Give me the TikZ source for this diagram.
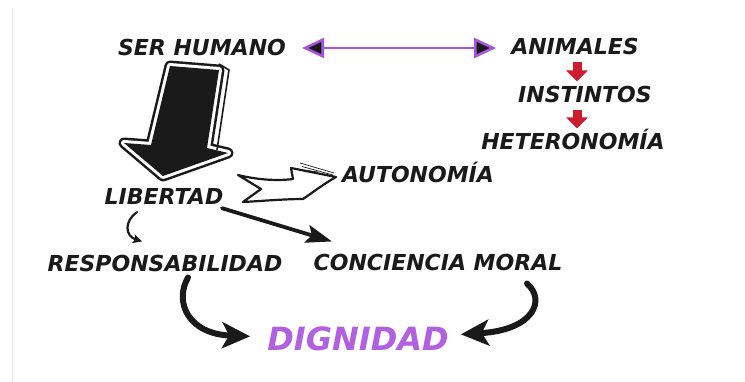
\documentclass[tikz,border=0pt]{standalone}
\usepackage{fontspec}
\setmainfont{DejaVu Sans}
\usetikzlibrary{arrows.meta}
\definecolor{vio}{RGB}{168,85,222}
\definecolor{vtext}{RGB}{178,96,226}
\definecolor{crim}{RGB}{204,28,46}
\definecolor{ink}{RGB}{26,26,26}
\begin{document}
\begin{tikzpicture}[x=1pt,y=-1pt,
  lbl/.style={font=\fontsize{22}{24}\selectfont\bfseries\itshape, inner sep=0pt, anchor=base, text=ink},
  biglbl/.style={font=\fontsize{32}{34}\selectfont\bfseries\itshape, inner sep=0pt, anchor=base, text=vtext},
  duo/.style={draw=vio, line width=2.6pt, {Triangle[length=22pt,width=20pt,fill=ink]}-{Triangle[length=22pt,width=20pt,fill=ink]}},
  redarrow/.style={draw=crim, line width=9pt, -{Triangle[length=11pt,width=21pt]}},
  curvearrow/.style={draw=ink, line width=6pt, line cap=round, -{Stealth[length=28pt,width=26pt,inset=7pt]}},
  thinarrow/.style={draw=ink, line width=2.2pt, line cap=round, -{Stealth[length=9pt,width=9pt,inset=2pt]}},
  straightarrow/.style={draw=ink, line width=3.8pt, line cap=round, -{Stealth[length=26pt,width=18pt,inset=5pt]}}
]
\useasboundingbox (0,0) rectangle (745,382);
\fill[white] (0,0) rectangle (745,382);
\draw[black!10, line width=0.8pt] (12,8) -- (12,382);

% labels
\node[lbl] (ser) at (202,56) {SER HUMANO};
\node[lbl] (anim) at (575,55) {ANIMALES};
\node[lbl] (inst) at (585,103) {INSTINTOS};
\node[lbl] (het) at (573,150) {HETERONOMÍA};
\node[lbl] (lib) at (164,205) {LIBERTAD};
\node[lbl] (aut) at (418,183) {AUTONOMÍA};
\node[lbl] (resp) at (165,272) {RESPONSABILIDAD};
\node[lbl] (conc) at (438,271) {CONCIENCIA MORAL};
\node[biglbl] (dig) at (358,350) {DIGNIDAD};

% purple double arrow
\draw[duo, shorten <=16pt, shorten >=15pt] (ser.east) -- (ser.east -| anim.west);

% red arrows
\draw[redarrow, shorten <=6pt, shorten >=5pt] ([xshift=2pt]anim.south) -- ([xshift=-8pt]inst.north);
\draw[redarrow, shorten <=6pt, shorten >=1pt] ([xshift=-8pt]inst.south) -- ([xshift=4pt]het.north);

% big sketched arrow SER HUMANO -> LIBERTAD
\draw[ink, line width=11pt, line join=round]
  (170,66) -- (219,70) -- (207,148) -- (228,153) -- (163,176) -- (124,143) -- (151,145) -- cycle;
\draw[white, line width=6pt, line join=round]
  (170,66) -- (219,70) -- (207,148) -- (228,153) -- (163,176) -- (124,143) -- (151,145) -- cycle;
\fill[ink]
  (170,66) -- (219,70) -- (207,148) -- (228,153) -- (163,176) -- (124,143) -- (151,145) -- cycle;
\draw[ink, line width=1.6pt, line join=round] (219,64) -- (229,70) -- (217,150);

% hollow arrow LIBERTAD -> AUTONOMIA
\draw[ink, line width=2.2pt, fill=white, line join=round]
  (238,175) .. controls (258,180) and (278,181) .. (293,179) -- (291,168) -- (336,177)
  .. controls (322,185) and (312,193) .. (303,199)
  .. controls (285,199) and (262,201) .. (243,202) -- (261,189) -- cycle;
\draw[ink, line width=0.7pt] (300,163) -- (334,173);
\draw[ink, line width=0.7pt] (302,166.5) -- (333,175);
\draw[ink, line width=0.7pt] (296,169) -- (318,172);

% LIBERTAD -> RESPONSABILIDAD
\draw[thinarrow] ([shift={(-27,7)}]lib.south) .. controls (124,221) and (125,236) .. ([shift={(-23,-14)}]resp.north);

% LIBERTAD -> CONCIENCIA MORAL
\draw[straightarrow] ([shift={(58,3)}]lib.south) -- ([shift={(-106,-13)}]conc.north);

% to DIGNIDAD
\draw[curvearrow] ([shift={(23,5)}]resp.south) .. controls (174,302) and (188,334) .. ([xshift=-17pt,yshift=2pt]dig.west);
\draw[curvearrow] ([shift={(89,12)}]conc.south) .. controls (546,300) and (534,330) .. ([xshift=12pt,yshift=4pt]dig.east);
\end{tikzpicture}
\end{document}
